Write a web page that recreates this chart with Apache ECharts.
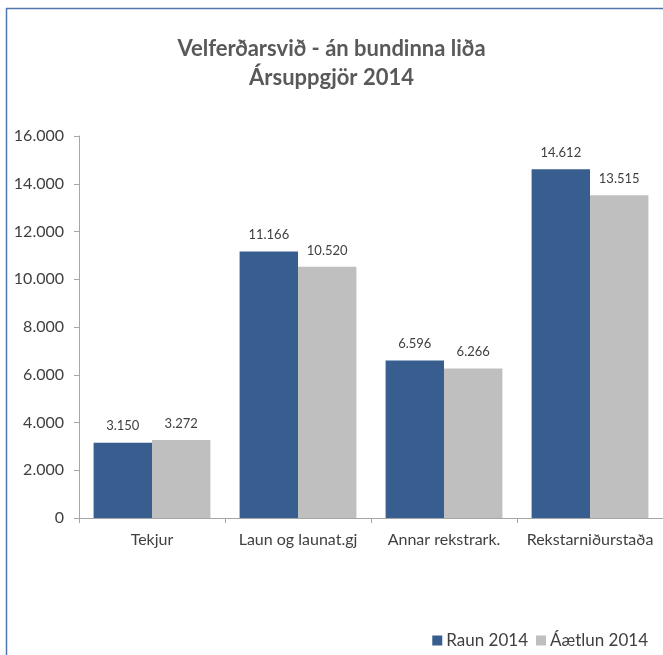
<!DOCTYPE html>
<html>
<head>
<meta charset="utf-8">
<script src="https://cdn.jsdelivr.net/npm/echarts@6/dist/echarts.min.js"></script>
<style>html,body{margin:0;padding:0;background:#fff;}#c{width:663px;height:655px;}</style>
</head>
<body>
<div id="c"></div>
<script>
const categories = ['Tekjur', 'Laun og launat.gj', 'Annar rekstrark.', 'Rekstarniðurstaða'];
const raun2014 = [3150, 11166, 6596, 14612];
const aaetlun2014 = [3272, 10520, 6266, 13515];
const yTicks = [0, 2000, 4000, 6000, 8000, 10000, 12000, 14000, 16000];

function fmt(v) {
  return String(Math.round(v)).replace(/\B(?=(\d{3})+(?!\d))/g, '.');
}

const chart = echarts.init(document.getElementById('c'));
const textColor = '#404040';
const font = 'Lato, "Open Sans", sans-serif';
chart.setOption({
  animation: false,
  backgroundColor: '#fff',
  title: {
    text: 'Velferðarsvið - án bundinna liða\nÁrsuppgjör 2014',
    left: 'center',
    top: 29,
    textStyle: { fontFamily: font, fontSize: 22, fontWeight: 'bold', color: '#595959', lineHeight: 29 }
  },
  legend: {
    right: 10,
    top: 627,
    itemWidth: 10,
    itemHeight: 10,
    itemGap: 8,
    icon: 'rect',
    textStyle: { fontFamily: font, fontSize: 17, color: textColor, padding: [0, 0, 0, -1] },
    data: ['Raun 2014', 'Áætlun 2014']
  },
  grid: { left: 79, top: 136, width: 591, bottom: 137, containLabel: false },
  xAxis: {
    type: 'category',
    data: categories,
    axisLine: { lineStyle: { color: '#A6A6A6', width: 1 } },
    axisTick: { show: true, length: 5, interval: 0, lineStyle: { color: '#A6A6A6' } },
    axisLabel: { interval: 0, fontFamily: font, fontSize: 16, color: textColor, margin: 14 }
  },
  yAxis: {
    type: 'value',
    min: yTicks[0],
    max: yTicks[yTicks.length - 1],
    interval: 2000,
    splitLine: { show: false },
    axisLine: { show: true, lineStyle: { color: '#A6A6A6', width: 1 } },
    axisTick: { show: true, length: 5, lineStyle: { color: '#A6A6A6' } },
    axisLabel: { fontFamily: font, fontSize: 16, color: textColor, margin: 15, formatter: fmt }
  },
  series: [
    {
      name: 'Raun 2014', type: 'bar', data: raun2014,
      barGap: '0%', barCategoryGap: '20%',
      itemStyle: { color: '#375E8F' },
      label: { show: true, position: 'top', distance: 10, fontFamily: font, fontSize: 13, color: textColor, formatter: p => fmt(p.value) }
    },
    {
      name: 'Áætlun 2014', type: 'bar', data: aaetlun2014,
      barGap: '0%', barCategoryGap: '20%',
      itemStyle: { color: '#BFBFBF' },
      label: { show: true, position: 'top', distance: 10, fontFamily: font, fontSize: 13, color: textColor, formatter: p => fmt(p.value) }
    }
  ],
  graphic: [
    { type: 'line', shape: { x1: 6.5, y1: 8, x2: 6.5, y2: 655 }, style: { stroke: '#4F77AE', lineWidth: 1.5 } },
    { type: 'line', shape: { x1: 6, y1: 8.5, x2: 663, y2: 8.5 }, style: { stroke: '#4F77AE', lineWidth: 1.5 } }
  ]
});
</script>
</body>
</html>
